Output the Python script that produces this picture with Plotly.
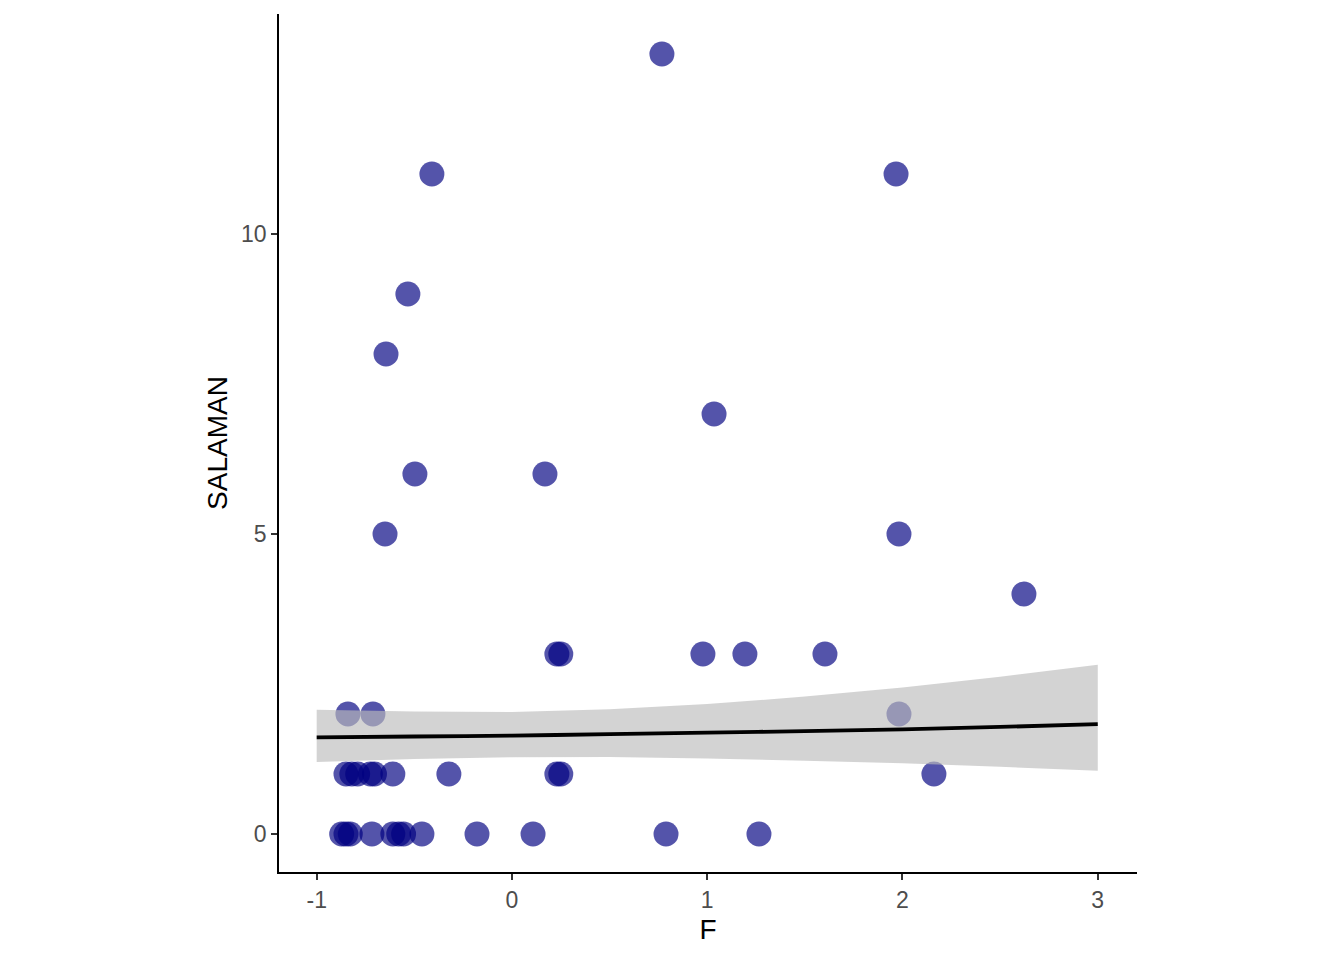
import plotly.graph_objects as go

# Observed data
F = [0.768, -0.41, 1.967, -0.533, -0.645, 1.035, -0.497, 0.169, -0.65, 1.982, 2.622,
     0.23, 0.25, 0.978, 1.193, 1.603,
     -0.84, -0.712, 1.982,
     -0.85, -0.82, -0.79, -0.725, -0.704, -0.61, -0.323, 0.23, 0.25, 2.161,
     -0.872, -0.85, -0.828, -0.717, -0.61, -0.58, -0.555, -0.461, -0.179, 0.108, 0.789, 1.265]
SALAMAN = [13, 11, 11, 9, 8, 7, 6, 6, 5, 5, 4,
           3, 3, 3, 3, 3,
           2, 2, 2,
           1, 1, 1, 1, 1, 1, 1, 1, 1, 1,
           0, 0, 0, 0, 0, 0, 0, 0, 0, 0, 0, 0]

# Fitted model prediction and confidence band
fit_x = [-1, -0.5, 0, 0.5, 1, 1.5, 2, 2.5, 3]
fit_y = [1.61, 1.625, 1.64, 1.665, 1.69, 1.715, 1.745, 1.785, 1.83]
fit_hi = [2.07, 2.04, 2.035, 2.08, 2.165, 2.29, 2.44, 2.62, 2.82]
fit_lo = [1.20, 1.25, 1.28, 1.285, 1.26, 1.22, 1.18, 1.12, 1.055]

x_ticks = [-1, 0, 1, 2, 3]
y_ticks = [0, 5, 10]

fig = go.Figure()
fig.add_trace(go.Scatter(
    x=F, y=SALAMAN, mode="markers",
    marker=dict(size=25, color="navy", opacity=0.67, line=dict(width=0)),
    showlegend=False, hoverinfo="x+y"))
fig.add_trace(go.Scatter(
    x=fit_x + fit_x[::-1], y=fit_hi + fit_lo[::-1],
    fill="toself", fillcolor="rgba(188,188,188,0.65)",
    line=dict(width=0), mode="lines", showlegend=False, hoverinfo="skip"))
fig.add_trace(go.Scatter(
    x=fit_x, y=fit_y, mode="lines",
    line=dict(color="black", width=3.8, shape="spline"),
    showlegend=False))

axis_common = dict(
    showgrid=False, zeroline=False, showline=True, linecolor="black", linewidth=1.8,
    ticks="outside", ticklen=6, tickwidth=1.6, tickcolor="#333333",
    tickfont=dict(family="Liberation Sans, Arial", size=23, color="#4d4d4d"),
)

fig.update_layout(
    width=1344, height=960,
    margin=dict(l=271, r=215, t=6, b=96),
    paper_bgcolor="white", plot_bgcolor="white",
    xaxis=dict(range=[-1.193, 3.201], tickvals=x_ticks, ticktext=[str(v) for v in x_ticks],
               title=dict(text="F", font=dict(family="Liberation Sans, Arial", size=28, color="black"),
                          standoff=8),
               **axis_common),
    yaxis=dict(range=[-0.633, 13.667], tickvals=y_ticks, ticktext=[str(v) for v in y_ticks],
               title=dict(text="SALAMAN", font=dict(family="Liberation Sans, Arial", size=28, color="black"),
                          standoff=5),
               **axis_common),
)

fig.write_html("out.html")
